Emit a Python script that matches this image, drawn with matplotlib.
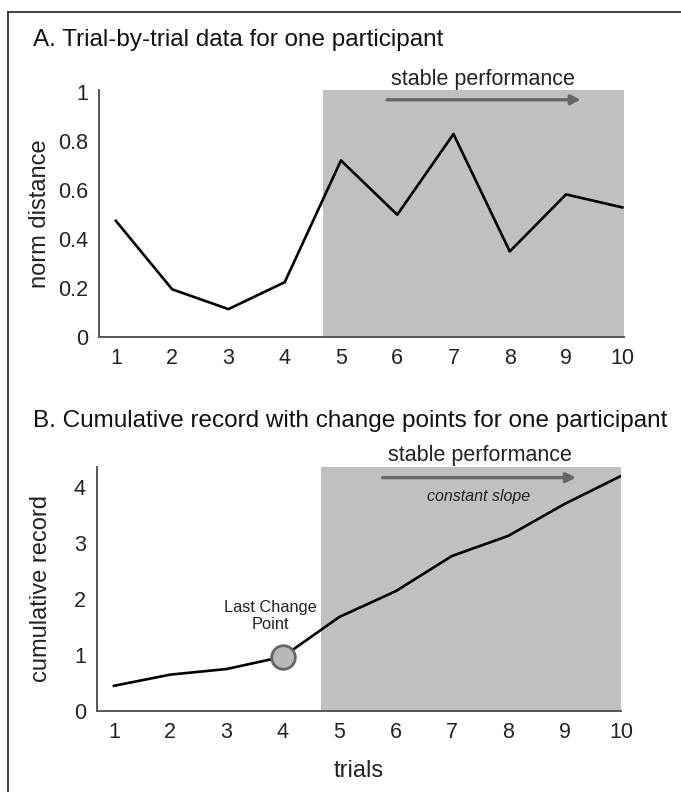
import numpy as np
import matplotlib
matplotlib.use('Agg')
import matplotlib.pyplot as plt
from matplotlib.lines import Line2D

plt.rcParams['font.family'] = ['Liberation Sans', 'DejaVu Sans']

# Datos
trials = [1, 2, 3, 4, 5, 6, 7, 8, 9, 10]
norm_dist = [0.475, 0.195, 0.114, 0.224, 0.722, 0.50, 0.83, 0.35, 0.583, 0.53]
cum_record = [0.45, 0.65, 0.75, 0.97, 1.68, 2.14, 2.77, 3.13, 3.70, 4.20]
change_trial = 4
change_value = 0.96
stable_start = 4.68

titulo_a = 'A. Trial-by-trial data for one participant'
titulo_b = 'B. Cumulative record with change points for one participant'

W, H = 681, 792
fig = plt.figure(figsize=(W / 100, H / 100), dpi=100)

# marco de la figura (solo izquierda y arriba se ven)
fig.add_artist(Line2D([8 / W, 8 / W], [0, 1 - 12 / H], color='#333333', lw=1.3))
fig.add_artist(Line2D([8 / W, 1], [1 - 12 / H, 1 - 12 / H], color='#333333', lw=1.3))


def eje(left, right, bottom, top):
    return fig.add_axes([left / W, 1 - bottom / H, (right - left) / W, (bottom - top) / H])


def estilo(ax):
    for s in ['top', 'right']:
        ax.spines[s].set_visible(False)
    for s in ['left', 'bottom']:
        ax.spines[s].set_color('#555555')
        ax.spines[s].set_linewidth(1.4)
    ax.tick_params(length=0, labelsize=15.5, colors='#222222', pad=8)
    ax.set_xticks(trials)
    ax.set_xlim(0.70, 10.03)


# Panel A
ax1 = eje(99, 624, 337, 90)
estilo(ax1)
ax1.set_ylim(0, 1.01)
ax1.axvspan(stable_start, 10.03, color='#c0c0c0', lw=0, zorder=0)
ax1.plot(trials, norm_dist, color='black', lw=1.9, zorder=3)
ax1.set_yticks([0, 0.2, 0.4, 0.6, 0.8, 1])
ax1.set_yticklabels(['0', '0.2', '0.4', '0.6', '0.8', '1'])
ax1.set_ylabel('norm distance', fontsize=17, color='#222222')
ax1.yaxis.set_label_coords(-48 / 525, 0.5)
ax1.annotate('', xy=(9.31, 0.97), xytext=(5.77, 0.97),
             arrowprops=dict(arrowstyle='-|>', color='#666666', lw=2.4, mutation_scale=14))
ax1.text(7.53, 1.03, 'stable performance', fontsize=15.5, color='#222222',
         ha='center', va='baseline')
fig.text(33 / W, 1 - 46 / H, titulo_a, fontsize=17.5, color='#111111', va='baseline')

# Panel B
ax2 = eje(97, 621, 711, 467)
estilo(ax2)
ax2.set_ylim(0, 4.36)
ax2.set_xlim(0.70, 10.0)
ax2.axvspan(stable_start, 10.03, color='#c0c0c0', lw=0, zorder=0)
ax2.plot(trials, cum_record, color='black', lw=1.9, zorder=3)
ax2.plot([change_trial], [change_value], 'o', ms=17, mfc='#b8b8b8', mec='#666666',
         mew=2, zorder=4)
ax2.set_yticks([0, 1, 2, 3, 4])
ax2.set_ylabel('cumulative record', fontsize=17, color='#222222')
ax2.yaxis.set_label_coords(-45 / 524, 0.5)
ax2.set_xlabel('trials', fontsize=17, color='#222222')
ax2.xaxis.set_label_coords(0.5, -49 / 244)
ax2.annotate('', xy=(9.25, 4.17), xytext=(5.72, 4.17),
             arrowprops=dict(arrowstyle='-|>', color='#666666', lw=2.4, mutation_scale=14))
ax2.text(7.5, 4.47, 'stable performance', fontsize=15.5, color='#222222',
         ha='center', va='baseline')
ax2.text(7.48, 3.84, 'constant slope', fontsize=11.5, style='italic', color='#222222',
         ha='center', va='center')
ax2.text(3.78, 1.7, 'Last Change\nPoint', fontsize=11.8, color='#222222',
         ha='center', va='center', linespacing=1.15)
fig.text(33 / W, 1 - 427 / H, titulo_b, fontsize=17.5, color='#111111', va='baseline')

fig.savefig('out.png', dpi=100)
